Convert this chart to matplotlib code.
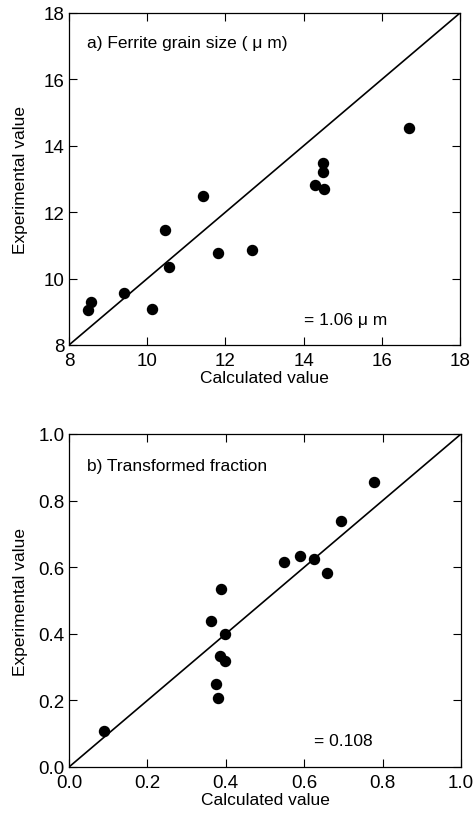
import matplotlib.pyplot as plt

plt.rcParams['font.family'] = ['Liberation Sans', 'DejaVu Sans']

# a) Ferrite grain size (um)
calc_a = [8.48, 8.55, 9.41, 10.13, 10.46, 10.56, 11.42, 11.82, 12.68, 14.29, 14.49, 14.50, 14.51, 16.70]
exp_a = [9.04, 9.31, 9.57, 9.09, 11.46, 10.35, 12.48, 10.78, 10.86, 12.82, 13.48, 13.21, 12.71, 14.55]

# b) Transformed fraction
calc_b = [0.089, 0.363, 0.389, 0.399, 0.385, 0.399, 0.376, 0.381, 0.549, 0.589, 0.624, 0.658, 0.694, 0.778]
exp_b = [0.107, 0.437, 0.536, 0.398, 0.333, 0.319, 0.250, 0.206, 0.617, 0.633, 0.624, 0.584, 0.738, 0.856]

fig = plt.figure(figsize=(4.73, 8.2), dpi=100)
ax1 = fig.add_axes([69/473, 1 - 346/820, 391/473, 332/820])
ax2 = fig.add_axes([69/473, 1 - 768/820, 392/473, 333/820])


def style(ax, lo, hi, ticks, fmt):
    ax.plot([lo, hi], [lo, hi], color='black', lw=1.2)
    ax.set_xlim(lo, hi)
    ax.set_ylim(lo, hi)
    ax.set_xticks(ticks)
    ax.set_yticks(ticks)
    ax.set_xticklabels([fmt.format(t) for t in ticks])
    ax.set_yticklabels([fmt.format(t) for t in ticks])
    ax.tick_params(direction='in', top=True, right=True, length=6, width=0.8, labelsize=13.5, pad=3)
    ax.tick_params(axis='x', pad=5)
    for s in ax.spines.values():
        s.set_linewidth(0.9)
    ax.set_xlabel('Calculated value', fontsize=12.5, labelpad=1)
    ax.set_ylabel('Experimental value', fontsize=12.5)
    ax.yaxis.set_label_coords(-0.105, 0.5)


style(ax1, 8, 18, [8, 10, 12, 14, 16, 18], '{:g}')
ax1.scatter(calc_a, exp_a, s=52, color='black', zorder=3, clip_on=False)
ax1.text(0.045, 0.91, 'a) Ferrite grain size ( μ m)', transform=ax1.transAxes, fontsize=12.5, va='center')
ax1.text(0.60, 0.078, '= 1.06 μ m', transform=ax1.transAxes, fontsize=12.5, va='center')

style(ax2, 0.0, 1.0, [0.0, 0.2, 0.4, 0.6, 0.8, 1.0], '{:.1f}')
ax2.scatter(calc_b, exp_b, s=52, color='black', zorder=3, clip_on=False)
ax2.text(0.045, 0.905, 'b) Transformed fraction', transform=ax2.transAxes, fontsize=12.5, va='center')
ax2.text(0.625, 0.08, '= 0.108', transform=ax2.transAxes, fontsize=12.5, va='center')

fig.savefig('out.png', dpi=100)
